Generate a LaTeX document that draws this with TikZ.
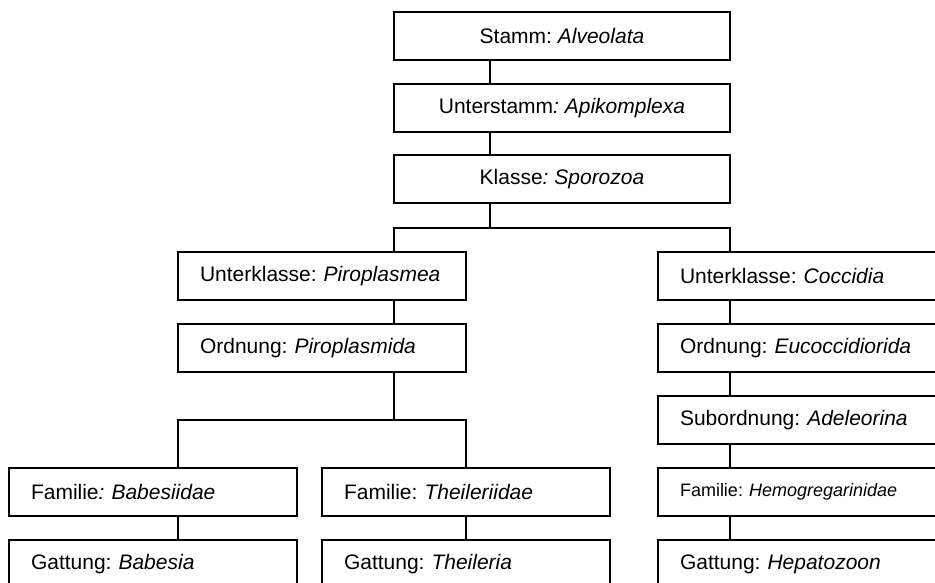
\documentclass[tikz,border=0pt]{standalone}
\usepackage{fontspec}
\setmainfont{Liberation Sans}
\frenchspacing
\begin{document}
\begin{tikzpicture}[x=1pt,y=-1pt,
  box/.style={draw, line width=1.6pt, minimum height=48pt, inner ysep=0pt,
    font=\fontsize{21}{25}\selectfont\frenchspacing},
  cbox/.style={box, minimum width=336pt, inner xsep=0pt},
  lbox/.style={box, inner xsep=22pt, text width=244pt, align=left},
  small/.style={font=\fontsize{18}{22}\selectfont\frenchspacing},
  conn/.style={line width=1.6pt}]
\useasboundingbox (0,0) rectangle (935,583);
\fill[white] (0,0) rectangle (935,583);
\clip (0,0) rectangle (935,583);

% top column
\node[cbox] (stamm)  at (562,36)  {Stamm: \textit{Alveolata}};
\node[cbox] (ustamm) at (562,108) {Unterstamm\textit{: Apikomplexa}};
\node[cbox] (klasse) at (562,179) {Klasse\textit{: Sporozoa}};

% left column
\node[lbox] (ukp)  at (322,276) {Unterklasse: \textit{Piroplasmea}};
\node[lbox] (ordp) at (322,348) {Ordnung: \textit{Piroplasmida}};
\node[lbox] (famb) at (153,492) {Familie\textit{: Babesiidae}};
\node[lbox] (gatb) at (153,564) {Gattung: \textit{Babesia}};
\node[lbox] (famt) at (466,492) {Familie: \textit{Theileriidae}};
\node[lbox] (gatt) at (466,564) {Gattung: \textit{Theileria}};

% right column
\node[lbox] (ukc)  at (802,276) {Unterklasse: \textit{Coccidia}};
\node[lbox] (ordc) at (802,348) {Ordnung: \textit{Eucoccidiorida}};
\node[lbox] (subc) at (802,420) {Subordnung: \textit{Adeleorina}};
\node[lbox,small] (famh) at (802,492) {Familie: \textit{Hemogregarinidae}};
\node[lbox] (gath) at (802,564) {Gattung: \textit{Hepatozoon}};

% connector positions
\coordinate (cx) at (490,0);
\coordinate (lx) at (394,0);
\coordinate (rx) at (730,0);
\coordinate (bx) at (178,0);
\coordinate (tx) at (466,0);
\coordinate (b1) at (0,228);
\coordinate (b2) at (0,420);

\draw[conn] (stamm.south -| cx) -- (ustamm.north -| cx);
\draw[conn] (ustamm.south -| cx) -- (klasse.north -| cx);
\draw[conn] (klasse.south -| cx) -- (cx |- b1);
\draw[conn] (ukp.north -| lx) -- (lx |- b1) -- (rx |- b1) -- (ukc.north -| rx);
\draw[conn] (ukp.south -| lx) -- (ordp.north -| lx);
\draw[conn] (ordp.south -| lx) -- (lx |- b2);
\draw[conn] (famb.north -| bx) -- (bx |- b2) -- (tx |- b2) -- (famt.north -| tx);
\draw[conn] (famb.south -| bx) -- (gatb.north -| bx);
\draw[conn] (famt.south -| tx) -- (gatt.north -| tx);
\draw[conn] (ukc.south -| rx) -- (ordc.north -| rx);
\draw[conn] (ordc.south -| rx) -- (subc.north -| rx);
\draw[conn] (subc.south -| rx) -- (famh.north -| rx);
\draw[conn] (famh.south -| rx) -- (gath.north -| rx);
\end{tikzpicture}
\end{document}
